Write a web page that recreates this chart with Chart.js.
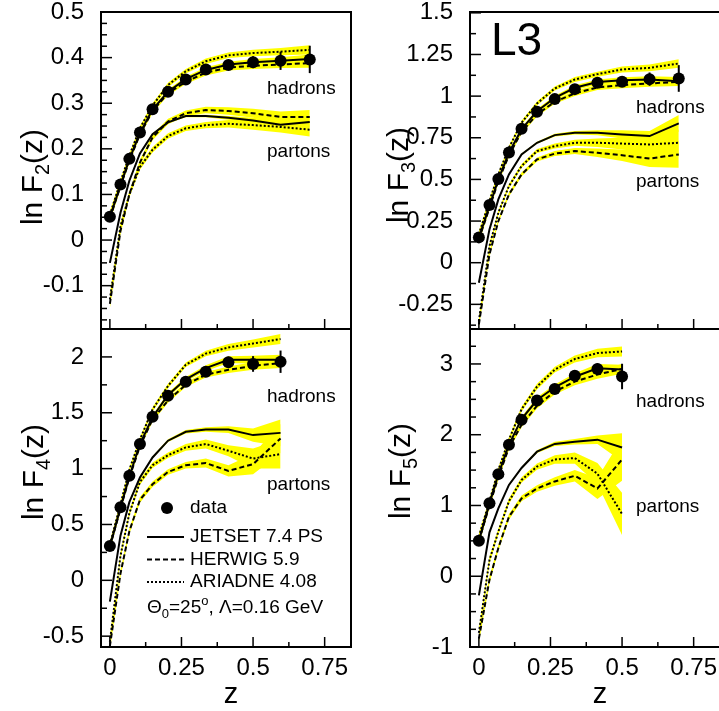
<!DOCTYPE html>
<html>
<head>
<meta charset="utf-8">
<script src="https://cdn.jsdelivr.net/npm/chart.js@4.4.0/dist/chart.umd.min.js"></script>
<style>
  html, body { margin: 0; padding: 0; background: #fff; overflow: hidden; }
  body { width: 719px; height: 711px; position: relative; }
  canvas { position: absolute; }
</style>
</head>
<body>
<canvas id="f2" width="360" height="329" style="left:0;top:0"></canvas>
<canvas id="f3" width="362" height="329" style="left:360px;top:0"></canvas>
<canvas id="f4" width="360" height="382" style="left:0;top:329px"></canvas>
<canvas id="f5" width="362" height="382" style="left:360px;top:329px"></canvas>
<script>
// z bins (F4 uses first 11, F5 first 10)
const zAll = [0, 0.037, 0.068, 0.105, 0.149, 0.203, 0.265, 0.335, 0.414, 0.5, 0.596, 0.698];
const zTicks = [0, 0.25, 0.5, 0.75];

// ln F2
const f2Ticks = [-0.1, 0, 0.1, 0.2, 0.3, 0.4, 0.5];
const f2Data = [0.051, 0.122, 0.178, 0.236, 0.287, 0.325, 0.352, 0.374, 0.384, 0.390, 0.393, 0.396];
const f2Err = [0.004, 0.004, 0.004, 0.005, 0.005, 0.006, 0.007, 0.008, 0.01, 0.013, 0.02, 0.03];
const f2JetHad = [0.05, 0.12, 0.177, 0.235, 0.286, 0.325, 0.353, 0.373, 0.385, 0.39, 0.393, 0.397];
const f2HerHad = [0.048, 0.118, 0.174, 0.232, 0.283, 0.322, 0.347, 0.367, 0.378, 0.382, 0.385, 0.388];
const f2AriHad = [0.055, 0.128, 0.185, 0.245, 0.295, 0.34, 0.37, 0.392, 0.405, 0.41, 0.413, 0.417];
const f2JetPar = [-0.05, 0.06, 0.13, 0.19, 0.232, 0.258, 0.272, 0.272, 0.268, 0.262, 0.253, 0.259];
const f2HerPar = [-0.14, 0.02, 0.1, 0.17, 0.225, 0.26, 0.278, 0.285, 0.283, 0.278, 0.27, 0.27];
const f2AriPar = [-0.13, 0.03, 0.1, 0.16, 0.198, 0.228, 0.245, 0.252, 0.255, 0.252, 0.248, 0.242];
const f2BandHad = [0.008, 0.006, 0.005, 0.005, 0.005, 0.005, 0.005, 0.006, 0.006, 0.007, 0.008, 0.01];
const f2BandPar = [0.01, 0.008, 0.006, 0.006, 0.006, 0.006, 0.006, 0.007, 0.008, 0.01, 0.012, 0.015];
const f2BandJet = [0.003, 0.002, 0.002, 0.002, 0.002, 0.002, 0.003, 0.003, 0.004, 0.006, 0.01, 0.012];

// ln F3
const f3Ticks = [-0.25, 0, 0.25, 0.5, 0.75, 1, 1.25, 1.5];
const f3Data = [0.152, 0.346, 0.502, 0.662, 0.804, 0.906, 0.982, 1.042, 1.08, 1.086, 1.102, 1.106];
const f3Err = [0.01, 0.01, 0.01, 0.012, 0.012, 0.014, 0.016, 0.02, 0.025, 0.03, 0.04, 0.08];
const f3JetHad = [0.15, 0.34, 0.5, 0.66, 0.8, 0.91, 0.99, 1.05, 1.085, 1.095, 1.1, 1.09];
const f3HerHad = [0.14, 0.33, 0.49, 0.645, 0.785, 0.89, 0.966, 1.016, 1.052, 1.066, 1.076, 1.086];
const f3AriHad = [0.17, 0.37, 0.53, 0.69, 0.84, 0.956, 1.046, 1.1, 1.132, 1.16, 1.17, 1.196];
const f3JetPar = [-0.12, 0.2, 0.38, 0.53, 0.65, 0.72, 0.766, 0.78, 0.78, 0.77, 0.76, 0.836];
const f3HerPar = [-0.37, 0.05, 0.25, 0.41, 0.53, 0.62, 0.655, 0.67, 0.66, 0.645, 0.625, 0.65];
const f3AriPar = [-0.35, 0.1, 0.3, 0.46, 0.58, 0.67, 0.7, 0.72, 0.72, 0.715, 0.71, 0.72];
const f3BandHad = [0.02, 0.015, 0.012, 0.012, 0.012, 0.012, 0.012, 0.015, 0.015, 0.018, 0.02, 0.025];
const f3BandPar = [0.02, 0.015, 0.012, 0.012, 0.012, 0.012, 0.015, 0.018, 0.025, 0.035, 0.05, 0.08];
const f3BandJet = [0.005, 0.005, 0.005, 0.005, 0.005, 0.006, 0.008, 0.01, 0.015, 0.025, 0.03, 0.05];

// ln F4
const f4Ticks = [-0.5, 0, 0.5, 1, 1.5, 2];
const f4Data = [0.307, 0.654, 0.937, 1.221, 1.465, 1.653, 1.778, 1.868, 1.952, 1.937, 1.957];
const f4Err = [0.02, 0.02, 0.02, 0.025, 0.025, 0.03, 0.035, 0.04, 0.05, 0.07, 0.1];
const f4JetHad = [0.3, 0.65, 0.93, 1.22, 1.46, 1.66, 1.8, 1.9, 1.975, 1.975, 1.975];
const f4HerHad = [0.3, 0.64, 0.92, 1.2, 1.44, 1.61, 1.75, 1.84, 1.885, 1.92, 1.945];
const f4AriHad = [0.32, 0.68, 0.99, 1.26, 1.53, 1.74, 1.93, 2.03, 2.085, 2.12, 2.16];
const f4JetPar = [-0.19, 0.4, 0.7, 0.92, 1.1, 1.25, 1.33, 1.35, 1.35, 1.3, 1.32];
const f4HerPar = [-0.59, 0.06, 0.44, 0.72, 0.86, 0.97, 1.03, 1.05, 0.98, 1.04, 1.27];
const f4AriPar = [-0.55, 0.22, 0.6, 0.88, 1.03, 1.12, 1.19, 1.22, 1.16, 1.09, 1.13];
const f4BandHad = [0.03, 0.025, 0.02, 0.02, 0.02, 0.02, 0.02, 0.025, 0.03, 0.035, 0.045];
const f4BandPar = [0.04, 0.03, 0.025, 0.025, 0.025, 0.025, 0.03, 0.04, 0.05, 0.09, 0.13];
const f4BandJet = [0.01, 0.01, 0.01, 0.01, 0.01, 0.012, 0.015, 0.02, 0.03, 0.06, 0.12];

// ln F5
const f5Ticks = [-1, 0, 1, 2, 3];
const f5Data = [0.503, 1.033, 1.443, 1.857, 2.211, 2.484, 2.645, 2.833, 2.928, 2.823];
const f5Err = [0.03, 0.03, 0.03, 0.035, 0.04, 0.045, 0.05, 0.06, 0.08, 0.18];
const f5JetHad = [0.5, 1.03, 1.44, 1.86, 2.22, 2.49, 2.67, 2.82, 2.94, 2.92];
const f5HerHad = [0.5, 1.0, 1.4, 1.82, 2.14, 2.41, 2.61, 2.75, 2.85, 2.93];
const f5AriHad = [0.56, 1.06, 1.5, 1.93, 2.36, 2.68, 2.92, 3.07, 3.154, 3.177];
const f5JetPar = [-0.27, 0.62, 0.96, 1.29, 1.53, 1.76, 1.87, 1.9, 1.93, 1.82];
const f5HerPar = [-0.88, -0.05, 0.4, 0.84, 1.1, 1.24, 1.34, 1.42, 1.24, 1.65];
const f5AriPar = [-0.8, 0.23, 0.63, 1.06, 1.36, 1.55, 1.65, 1.67, 1.45, 0.88];
const f5BandHad = [0.05, 0.04, 0.035, 0.035, 0.035, 0.04, 0.04, 0.05, 0.06, 0.07];
const f5BandPar = [0.06, 0.05, 0.04, 0.04, 0.04, 0.045, 0.06, 0.08, 0.15, 0.3];
const f5BandJet = [0.02, 0.015, 0.015, 0.015, 0.015, 0.02, 0.03, 0.04, 0.06, 0.2];

const YELLOW = '#ffff00';
const FONT = '"Liberation Sans", Arial, Helvetica, sans-serif';
const DASH = [5, 3];
const DOT = [2, 2];

function pts(vals, band, sign) {
  return vals.map((v, i) => ({ x: zAll[i], y: band ? v + sign * band[i] : v }));
}
function near(v, list) {
  return list.find(a => Math.abs(a - v) < 1e-6);
}
function onStep(v, step) {
  return Math.abs(v / step - Math.round(v / step)) < 1e-6;
}

// frame, inward ticks, error bars and all the annotation text
const panelPlugin = {
  id: 'panel',
  afterDatasetsDraw(chart) {
    const { ctx, scales: { x, y } } = chart;
    chart.data.datasets.forEach(ds => {
      if (!ds.errors) return;
      ctx.save();
      ctx.strokeStyle = '#000';
      ctx.lineWidth = 2;
      ds.data.forEach((p, i) => {
        const px = x.getPixelForValue(p.x);
        ctx.beginPath();
        ctx.moveTo(px, y.getPixelForValue(p.y - ds.errors[i]));
        ctx.lineTo(px, y.getPixelForValue(p.y + ds.errors[i]));
        ctx.stroke();
      });
      ctx.restore();
    });
  },
  afterDraw(chart, args, o) {
    const { ctx, chartArea: a, scales: { x, y } } = chart;
    ctx.save();
    ctx.strokeStyle = '#000';
    ctx.lineWidth = 2;
    ctx.strokeRect(a.left, a.top, a.right - a.left, a.bottom - a.top);

    ctx.lineWidth = 1.5;
    y.ticks.forEach(t => {
      if (!onStep(t.value, o.yMinor)) return;
      const len = near(t.value, o.yTicks) !== undefined ? 11 : 6;
      const py = y.getPixelForValue(t.value);
      ctx.beginPath(); ctx.moveTo(a.left, py); ctx.lineTo(a.left + len, py); ctx.stroke();
    });
    x.ticks.forEach(t => {
      if (!onStep(t.value, 0.125)) return;
      const len = near(t.value, zTicks) !== undefined ? 10 : 5;
      const px = x.getPixelForValue(t.value);
      ctx.beginPath(); ctx.moveTo(px, a.bottom); ctx.lineTo(px, a.bottom - len); ctx.stroke();
    });

    ctx.fillStyle = '#000';
    ctx.textBaseline = 'alphabetic';
    ctx.textAlign = 'left';
    ctx.font = '19px ' + FONT;
    o.texts.forEach(t => ctx.fillText(t.t, t.x, t.y));

    if (o.big) {
      ctx.font = '46px ' + FONT;
      ctx.fillText(o.big.t, o.big.x, o.big.y);
    }

    // y title: ln F_q(z), rotated
    ctx.save();
    ctx.translate(o.titleX, o.titleY);
    ctx.rotate(-Math.PI / 2);
    ctx.font = '30px ' + FONT;
    const w1 = ctx.measureText('ln F').width;
    const w3 = ctx.measureText('(z)').width;
    ctx.font = '20px ' + FONT;
    const w2 = ctx.measureText(o.sub).width;
    let cx = -(w1 + w2 + w3) / 2;
    ctx.font = '30px ' + FONT;
    ctx.fillText('ln F', cx, 0);
    cx += w1;
    ctx.font = '20px ' + FONT;
    ctx.fillText(o.sub, cx, 7);
    cx += w2;
    ctx.font = '30px ' + FONT;
    ctx.fillText('(z)', cx, 0);
    ctx.restore();

    if (o.zTitle) {
      ctx.font = '29px ' + FONT;
      ctx.textAlign = 'center';
      ctx.fillText('z', o.zTitle.x, o.zTitle.y);
      ctx.textAlign = 'left';
    }

    if (o.legend) {
      const L = o.legend;
      ctx.beginPath();
      ctx.arc(L.x + 20, L.y, 6, 0, Math.PI * 2);
      ctx.fill();
      ctx.font = '19px ' + FONT;
      ctx.textBaseline = 'middle';
      ctx.fillText('data', L.x + 43, L.y);
      const rows = [['JETSET 7.4 PS', []], ['HERWIG 5.9', DASH], ['ARIADNE 4.08', DOT]];
      ctx.lineWidth = 2;
      rows.forEach((r, i) => {
        const ry = L.y + 29 + i * 22.5;
        ctx.setLineDash(r[1]);
        ctx.beginPath(); ctx.moveTo(L.x, ry); ctx.lineTo(L.x + 37, ry); ctx.stroke();
        ctx.setLineDash([]);
        ctx.fillText(r[0], L.x + 43, ry);
      });
      // Theta_0 = 25^o, Lambda = 0.16 GeV
      const ty = L.y + 105;
      ctx.textBaseline = 'alphabetic';
      let tx = L.x;
      const seg = (s, size, dy) => {
        ctx.font = size + 'px ' + FONT;
        ctx.fillText(s, tx, ty + dy);
        tx += ctx.measureText(s).width;
      };
      seg('\u0398', 19, 0);
      seg('0', 13, 5);
      seg('=25', 19, 0);
      seg('o', 13, -8);
      seg(', \u039B=0.16 GeV', 19, 0);
    }
    ctx.restore();
  }
};

function drawPanel(id, p) {
  const datasets = [];
  const curves = [
    [p.jetHad, p.bandHad, []], [p.herHad, p.bandHad, DASH], [p.ariHad, p.bandHad, DOT],
    [p.jetPar, p.bandJet, []], [p.herPar, p.bandPar, DASH], [p.ariPar, p.bandPar, DOT]
  ];
  curves.forEach(([vals, band]) => {
    datasets.push({ data: pts(vals, band, 1), borderWidth: 0, borderColor: 'rgba(0,0,0,0)',
      pointRadius: 0, fill: false, order: 3 });
    datasets.push({ data: pts(vals, band, -1), borderWidth: 0, borderColor: 'rgba(0,0,0,0)',
      pointRadius: 0, fill: '-1', backgroundColor: YELLOW, order: 3 });
  });
  curves.forEach(([vals, , dash]) => {
    datasets.push({ data: pts(vals), borderColor: '#000', borderWidth: 2, borderDash: dash,
      pointRadius: 0, fill: false, tension: 0, order: 2 });
  });
  datasets.push({ data: pts(p.data), errors: p.err, showLine: false, pointRadius: 6,
    pointBackgroundColor: '#000', pointBorderWidth: 0, order: 1 });

  const tickFont = { family: FONT, size: 24 };
  new Chart(document.getElementById(id), {
    type: 'line',
    data: { datasets },
    options: {
      responsive: false,
      animation: false,
      events: [],
      layout: { padding: p.pad, autoPadding: false },
      plugins: {
        legend: { display: false },
        tooltip: { enabled: false },
        panel: p.panel
      },
      scales: {
        x: {
          type: 'linear', min: -0.031, max: 0.842,
          afterFit: s => { s.height = p.xH; s.paddingLeft = 0; s.paddingRight = 0; s.paddingTop = 0; s.paddingBottom = 0; },
          grid: { display: false }, border: { display: false },
          ticks: {
            display: p.xH > 0, stepSize: 0.125, includeBounds: false, autoSkip: false,
            maxRotation: 0, minRotation: 0, maxTicksLimit: 1000, padding: -1, color: '#000', font: tickFont,
            callback: v => { const t = near(v, zTicks); return t === undefined ? '' : String(t); }
          }
        },
        y: {
          type: 'linear', min: p.yMin, max: p.yMax,
          afterFit: s => { s.width = p.yW; s.paddingTop = 0; s.paddingBottom = 0; s.paddingLeft = 0; s.paddingRight = 0; },
          grid: { display: false }, border: { display: false },
          ticks: {
            stepSize: p.panel.yMinor, includeBounds: false, autoSkip: false, maxTicksLimit: 1000, padding: 9,
            color: '#000', font: tickFont,
            callback: v => { const t = near(v, p.panel.yTicks); return t === undefined ? '' : String(t); }
          }
        }
      }
    },
    plugins: [panelPlugin]
  });
}

drawPanel('f2', {
  data: f2Data, err: f2Err,
  jetHad: f2JetHad, herHad: f2HerHad, ariHad: f2AriHad,
  jetPar: f2JetPar, herPar: f2HerPar, ariPar: f2AriPar,
  bandHad: f2BandHad, bandPar: f2BandPar, bandJet: f2BandJet,
  yMin: -0.195, yMax: 0.5, yW: 101, xH: 0,
  pad: { left: 0, top: 12, right: 9, bottom: 0 },
  panel: {
    yTicks: f2Ticks, yMinor: 0.025, sub: '2', titleX: 42, titleY: 177,
    texts: [{ t: 'hadrons', x: 267, y: 94 }, { t: 'partons', x: 267, y: 157 }]
  }
});

drawPanel('f3', {
  data: f3Data, err: f3Err,
  jetHad: f3JetHad, herHad: f3HerHad, ariHad: f3AriHad,
  jetPar: f3JetPar, herPar: f3HerPar, ariPar: f3AriPar,
  bandHad: f3BandHad, bandPar: f3BandPar, bandJet: f3BandJet,
  yMin: -0.398, yMax: 1.505, yW: 110, xH: 0,
  pad: { left: 0, top: 12, right: 2, bottom: 0 },
  panel: {
    yTicks: f3Ticks, yMinor: 0.125, sub: '3', titleX: 48, titleY: 175,
    texts: [{ t: 'hadrons', x: 276, y: 113 }, { t: 'partons', x: 276, y: 187 }],
    big: { t: 'L3', x: 131, y: 55 }
  }
});

drawPanel('f4', {
  data: f4Data, err: f4Err,
  jetHad: f4JetHad, herHad: f4HerHad, ariHad: f4AriHad,
  jetPar: f4JetPar, herPar: f4HerPar, ariPar: f4AriPar,
  bandHad: f4BandHad, bandPar: f4BandPar, bandJet: f4BandJet,
  yMin: -0.597, yMax: 2.25, yW: 101, xH: 64,
  pad: { left: 0, top: 0, right: 9, bottom: 0 },
  panel: {
    yTicks: f4Ticks, yMinor: 0.25, sub: '4', titleX: 43, titleY: 143,
    texts: [{ t: 'hadrons', x: 267, y: 73 }, { t: 'partons', x: 267, y: 161 }],
    zTitle: { x: 231, y: 374 },
    legend: { x: 147, y: 179 }
  }
});

drawPanel('f5', {
  data: f5Data, err: f5Err,
  jetHad: f5JetHad, herHad: f5HerHad, ariHad: f5AriHad,
  jetPar: f5JetPar, herPar: f5HerPar, ariPar: f5AriPar,
  bandHad: f5BandHad, bandPar: f5BandPar, bandJet: f5BandJet,
  yMin: -1.0, yMax: 3.494, yW: 110, xH: 64,
  pad: { left: 0, top: 0, right: 2, bottom: 0 },
  panel: {
    yTicks: f5Ticks, yMinor: 0.25, sub: '5', titleX: 50, titleY: 142,
    texts: [{ t: 'hadrons', x: 276, y: 78 }, { t: 'partons', x: 276, y: 183 }],
    zTitle: { x: 240, y: 374 }
  }
});
</script>
</body>
</html>
